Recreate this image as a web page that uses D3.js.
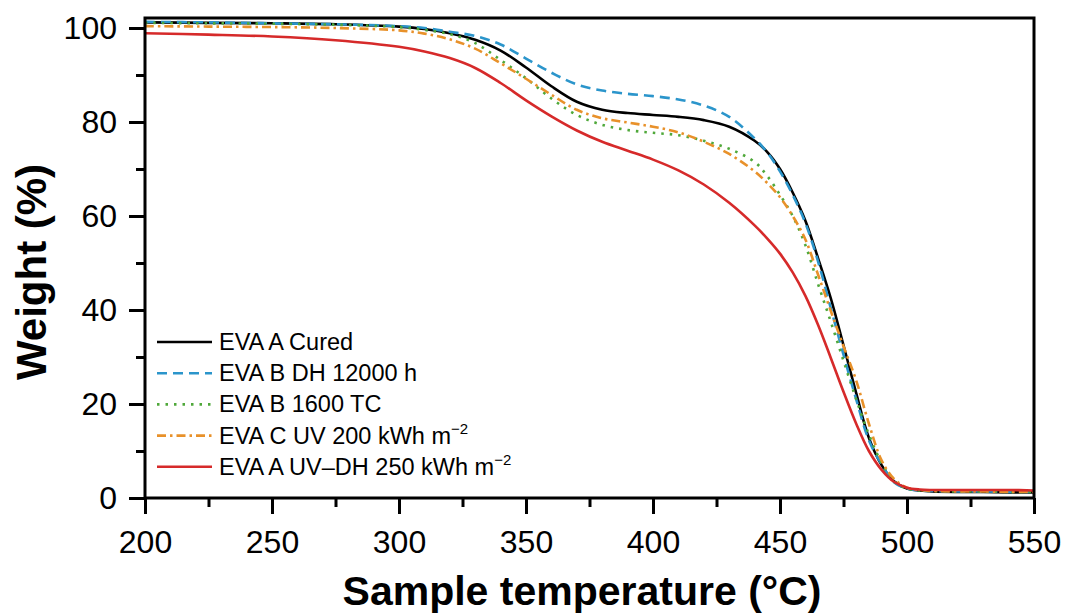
<!DOCTYPE html>
<html>
<head>
<meta charset="utf-8">
<script src="https://cdn.jsdelivr.net/npm/d3@7"></script>
<style>
  html, body { margin: 0; padding: 0; background: #fff; }
  svg { display: block; }
  text { font-family: "Liberation Sans", Arial, sans-serif; fill: #000; }
</style>
</head>
<body>
<svg id="chart" width="1068" height="614"></svg>
<script>
// ---- Data ----
const temps = [200, 225, 250, 275, 300, 310, 320, 330, 340, 350, 360, 370, 380, 390, 400, 410, 420, 430, 440, 445, 450, 455, 460, 465, 470, 475, 480, 485, 490, 495, 500, 505, 510, 520, 530, 540, 550];

const evaACured = [101.2, 101.1, 101.0, 100.8, 100.3, 99.8, 98.9, 97.5, 95.2, 91.6, 87.6, 84.3, 82.6, 81.9, 81.5, 81.1, 80.4, 79.0, 76.0, 73.6, 70.0, 65.0, 59.0, 51.0, 42.5, 32.5, 22.3, 12.8, 7.0, 3.5, 2.0, 1.6, 1.4, 1.3, 1.3, 1.2, 1.2];
const evaBDH = [101.3, 101.2, 101.0, 100.8, 100.4, 100.0, 99.2, 98.3, 96.5, 93.5, 90.5, 88.0, 86.7, 86.0, 85.5, 84.8, 83.5, 81.1, 76.5, 73.5, 69.5, 64.5, 58.5, 50.3, 40.4, 30.5, 21.0, 12.3, 7.2, 3.3, 2.0, 1.6, 1.5, 1.4, 1.4, 1.3, 1.3];
const evaBTC = [101.1, 101.0, 100.9, 100.7, 100.2, 99.6, 98.7, 96.8, 93.2, 89.3, 85.0, 81.5, 79.4, 78.3, 77.7, 77.2, 76.0, 74.3, 71.5, 68.5, 64.5, 60.0, 53.8, 45.5, 37.5, 29.2, 21.0, 13.5, 7.5, 3.5, 2.0, 1.6, 1.5, 1.4, 1.4, 1.3, 1.3];
const evaCUV = [100.4, 100.3, 100.2, 100.0, 99.5, 98.8, 97.6, 95.6, 92.5, 89.2, 85.8, 82.6, 80.8, 79.9, 79.0, 77.8, 75.8, 73.2, 69.5, 67.0, 64.0, 60.0, 55.0, 47.5, 39.8, 32.3, 25.0, 15.8, 8.0, 4.0, 2.2, 1.7, 1.5, 1.4, 1.4, 1.3, 1.3];
const evaAUVDH = [98.9, 98.6, 98.2, 97.4, 96.0, 95.0, 93.6, 91.5, 88.3, 84.6, 81.2, 78.2, 75.8, 73.9, 72.0, 69.7, 66.7, 62.8, 58.0, 55.2, 52.0, 48.0, 43.0, 36.8, 29.8, 22.6, 15.8, 10.0, 6.0, 3.4, 2.2, 1.8, 1.7, 1.7, 1.7, 1.7, 1.6];

const seriesNames = ["EVA A Cured", "EVA B DH 12000 h", "EVA B 1600 TC", "EVA C UV 200 kWh m", "EVA A UV\u2013DH 250 kWh m"];
const seriesSup = ["", "", "", "\u22122", "\u22122"];
const seriesValues = [evaACured, evaBDH, evaBTC, evaCUV, evaAUVDH];
const seriesColors = ["#000000", "#2b95cb", "#4fa83a", "#e8912a", "#d62a2a"];
const seriesDash = [null, "10,6", "2.5,6", "9,4,2.5,4", null];

const xTicks = [200, 250, 300, 350, 400, 450, 500, 550];
const xMinor = [225, 275, 325, 375, 425, 475, 525];
const yTicks = [0, 20, 40, 60, 80, 100];
const yMinor = [10, 30, 50, 70, 90];

// ---- Layout ----
const svg = d3.select("#chart");
const pLeft = 145, pRight = 1034, pTop = 18, pBottom = 498;
const x = d3.scaleLinear().domain([200, 550]).range([pLeft, pRight]);
const y = d3.scaleLinear().domain([0, 102.13]).range([pBottom, pTop]);

// Lines
const line = d3.line().x(d => x(d[0])).y(d => y(d[1])).curve(d3.curveCatmullRom.alpha(0.5));
seriesValues.forEach((vals, i) => {
  svg.append("path")
    .datum(temps.map((t, j) => [t, vals[j]]))
    .attr("d", line)
    .attr("fill", "none")
    .attr("stroke", seriesColors[i])
    .attr("stroke-width", 2.6)
    .attr("stroke-dasharray", seriesDash[i])
    .attr("stroke-linecap", "butt");
});

// Frame
svg.append("rect")
  .attr("x", pLeft).attr("y", pTop)
  .attr("width", pRight - pLeft).attr("height", pBottom - pTop)
  .attr("fill", "none").attr("stroke", "#000").attr("stroke-width", 3);

// Axes
const xAxis = svg.append("g").attr("transform", `translate(0,${pBottom})`)
  .call(d3.axisBottom(x).tickValues(xTicks).tickSize(16).tickPadding(16).tickFormat(d3.format("d")));
const xAxisMinor = svg.append("g").attr("transform", `translate(0,${pBottom})`)
  .call(d3.axisBottom(x).tickValues(xMinor).tickSize(9).tickFormat(""));
const yAxis = svg.append("g").attr("transform", `translate(${pLeft},0)`)
  .call(d3.axisLeft(y).tickValues(yTicks).tickSize(16).tickPadding(12).tickFormat(d3.format("d")));
const yAxisMinor = svg.append("g").attr("transform", `translate(${pLeft},0)`)
  .call(d3.axisLeft(y).tickValues(yMinor).tickSize(9).tickFormat(""));

[xAxis, xAxisMinor, yAxis, yAxisMinor].forEach(g => {
  g.select(".domain").remove();
  g.selectAll(".tick line").attr("stroke", "#000").attr("stroke-width", 3);
  g.selectAll(".tick text").attr("font-size", 32).attr("fill", "#000")
    .attr("font-family", "'Liberation Sans', Arial, sans-serif");
});

// Axis titles
svg.append("text")
  .attr("x", 582).attr("y", 605)
  .attr("text-anchor", "middle")
  .attr("font-size", 41).attr("font-weight", "bold")
  .text("Sample temperature (\u00B0C)");

svg.append("text")
  .attr("transform", "translate(46,272) rotate(-90)")
  .attr("text-anchor", "middle")
  .attr("font-size", 42).attr("font-weight", "bold")
  .text("Weight (%)");

// Legend
const legend = svg.append("g");
seriesNames.forEach((name, i) => {
  const ly = 342 + i * 31.2;
  legend.append("line")
    .attr("x1", 157).attr("x2", 212).attr("y1", ly).attr("y2", ly)
    .attr("stroke", seriesColors[i]).attr("stroke-width", 2.6)
    .attr("stroke-dasharray", seriesDash[i]);
  const t = legend.append("text")
    .attr("x", 219).attr("y", ly + 8)
    .attr("font-size", 23.5);
  t.append("tspan").text(name);
  if (seriesSup[i]) {
    t.append("tspan").attr("font-size", 15).attr("dy", -10).text(seriesSup[i]);
  }
});
</script>
</body>
</html>
